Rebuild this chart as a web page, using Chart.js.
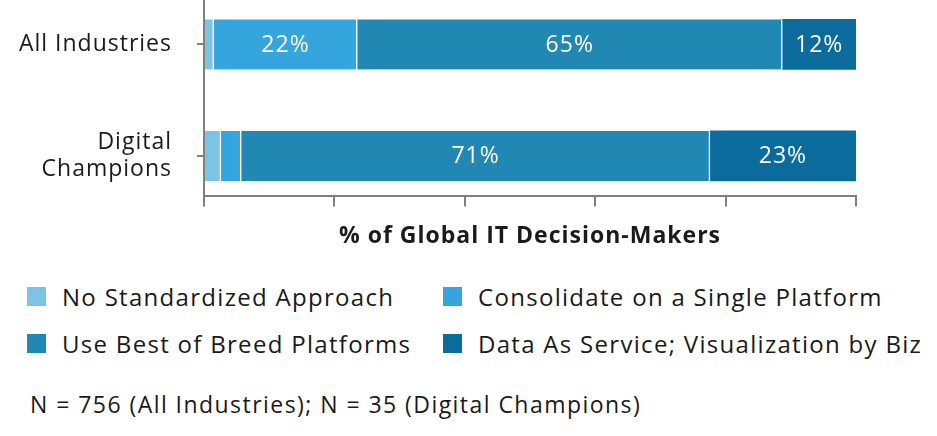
<!DOCTYPE html>
<html>
<head>
<meta charset="utf-8">
<script src="https://cdn.jsdelivr.net/npm/chart.js@4"></script>
<style>
  html, body { margin: 0; padding: 0; background: #fff; }
  body { width: 937px; height: 436px; position: relative; overflow: hidden; font-family: "Open Sans", sans-serif; color: #1a1a1a; }
  #wrap { position: absolute; left: 0; top: 0; width: 937px; height: 254px; }
  #legend { position: absolute; left: 27px; top: 280px; width: 900px; }
  .item { position: absolute; display: flex; align-items: center; font-size: 24px; letter-spacing: 1.3px; white-space: nowrap; }
  .box { width: 19px; height: 19px; margin-right: 16px; }
  #note { position: absolute; left: 30px; top: 388px; font-size: 23px; letter-spacing: 1.45px; white-space: nowrap; }
</style>
</head>
<body>
<div id="wrap"><canvas id="chart"></canvas></div>
<div id="legend"></div>
<div id="note">N = 756 (All Industries); N = 35 (Digital Champions)</div>
<script>
const categories = ['All Industries', ['Digital', 'Champions']];
const seriesNames = ['No Standardized Approach', 'Consolidate on a Single Platform', 'Use Best of Breed Platforms', 'Data As Service; Visualization by Biz'];
const noStandard = [1.5, 2.6];
const consolidate = [22, 3.1];
const bestOfBreed = [65.2, 71.9];
const dataAsService = [11.3, 22.4];
const colors = ['#7dc3e3', '#35a6dd', '#2187b3', '#0c6b9d'];
const xTicks = [0, 20, 40, 60, 80, 100];

// printed labels for the big segments only
const shownLabels = [
    [null, null],
    [22, null],
    [65, 71],
    [12, 23]
];

const seriesValues = [noStandard, consolidate, bestOfBreed, dataAsService];

const datasets = seriesValues.map((vals, i) => ({
    label: seriesNames[i],
    data: vals.map((v, j) => ({ x: v, y: j })),
    backgroundColor: colors[i],
    borderColor: '#ffffff',
    borderWidth: { top: 0, bottom: 0, left: 0, right: i < 3 ? 1.5 : 0 },
    borderSkipped: false,
    barThickness: 50
}));

/* wide letter spacing for all canvas text */
const spacing = {
    id: 'spacing',
    beforeDraw(chart) { chart.ctx.letterSpacing = '1px'; }
};

/* value labels inside bars */
const barLabels = {
    id: 'barLabels',
    afterDatasetsDraw(chart) {
        const ctx = chart.ctx;
        ctx.save();
        ctx.fillStyle = '#ffffff';
        ctx.font = '23px "Open Sans"';
        ctx.textAlign = 'center';
        ctx.textBaseline = 'middle';
        chart.data.datasets.forEach((ds, i) => {
            chart.getDatasetMeta(i).data.forEach((bar, j) => {
                const v = shownLabels[i][j];
                if (v == null) return;
                const cx = (bar.x + bar.base) / 2;
                ctx.fillText(v + '%', cx, bar.y + 1);
            });
        });
        ctx.restore();
    }
};

const chart = new Chart(document.getElementById('chart'), {
    type: 'bar',
    data: { datasets },
    options: {
        indexAxis: 'y',
        responsive: true,
        maintainAspectRatio: false,
        animation: false,
        layout: { padding: { left: 0, right: 81, top: 0, bottom: 4 } },
        plugins: {
            legend: { display: false },
            tooltip: { enabled: false }
        },
        scales: {
            x: {
                type: 'linear',
                stacked: true,
                min: 0,
                max: 100,
                afterBuildTicks: s => { s.ticks = xTicks.map(v => ({ value: v })); },
                ticks: { display: false },
                grid: { drawOnChartArea: false, drawTicks: true, tickLength: 10, color: '#808080', lineWidth: 2 },
                border: { color: '#808080', width: 2 },
                title: {
                    display: true,
                    text: '% of Global IT Decision-Makers',
                    font: { family: 'Open Sans', size: 23, weight: 'bold' },
                    color: '#1a1a1a',
                    padding: { top: 16, bottom: 0 }
                }
            },
            y: {
                type: 'linear',
                stacked: true,
                reverse: true,
                offset: false,
                min: -0.398,
                max: 1.363,
                afterBuildTicks: s => { s.ticks = categories.map((c, i) => ({ value: i })); },
                ticks: {
                    callback: v => categories[v],
                    font: { family: 'Open Sans', size: 23 },
                    color: '#1a1a1a',
                    padding: 25
                },
                grid: { offset: false, drawOnChartArea: false, drawTicks: true, tickLength: 7, color: '#808080', lineWidth: 2 },
                border: { color: '#808080', width: 2 },
                afterFit: s => { s.width = 204; s.paddingTop = 0; s.paddingBottom = 0; }
            }
        }
    },
    plugins: [spacing, barLabels]
});

/* legend built from the chart datasets, two columns */
const legend = document.getElementById('legend');
const colX = [0, 416];
const rowY = [0, 47];
chart.data.datasets.forEach((ds, i) => {
    const item = document.createElement('div');
    item.className = 'item';
    item.style.left = colX[i % 2] + 'px';
    item.style.top = rowY[Math.floor(i / 2)] + 'px';
    const box = document.createElement('span');
    box.className = 'box';
    box.style.background = ds.backgroundColor;
    const txt = document.createElement('span');
    txt.textContent = ds.label;
    item.appendChild(box);
    item.appendChild(txt);
    legend.appendChild(item);
});
</script>
</body>
</html>
